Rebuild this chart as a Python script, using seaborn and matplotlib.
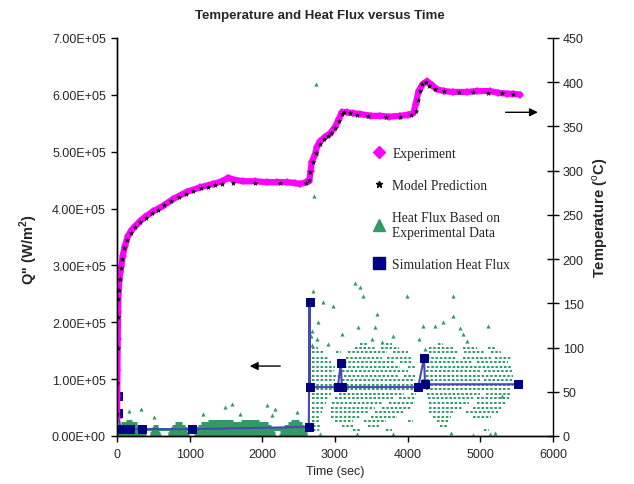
import numpy as np
import seaborn as sns
import matplotlib.pyplot as plt
from matplotlib.lines import Line2D
from matplotlib.ticker import FuncFormatter, MultipleLocator

sns.set_theme(style="white")
plt.rcParams['font.family'] = ['Liberation Sans', 'DejaVu Sans']
plt.rcParams['mathtext.fontset'] = 'custom'
plt.rcParams['mathtext.rm'] = 'Liberation Sans'
plt.rcParams['mathtext.bf'] = 'Liberation Sans:bold'

# temperature, experiment (sec, degC)
exp_t = [0, 3, 6, 10, 15, 20, 30, 45, 60, 80, 110, 150, 200, 250, 320, 390, 500, 630,
         775, 960, 1140, 1320, 1450, 1530, 1600, 1735, 1900, 2060, 2200, 2335, 2450,
         2520, 2600, 2645, 2665, 2680, 2725, 2750, 2795, 2860, 2930, 3000, 3050, 3095,
         3165, 3250, 3345, 3500, 3620, 3750, 3895, 4000, 4080, 4110, 4150, 4210, 4270,
         4330, 4400, 4500, 4625, 4815, 4950, 5130, 5250, 5370, 5450, 5545]
exp_T = [20, 45, 75, 110, 140, 160, 175, 185, 192, 204, 215, 226, 233, 237, 243, 248,
         254, 260, 268, 276, 281, 285, 288, 292, 290, 288, 288, 287, 287, 287, 286,
         285, 287, 288, 300, 310, 318, 327, 333, 338, 342, 349, 358, 366, 366, 365,
         364, 362, 362, 361, 362, 363, 365, 375, 390, 398, 401, 397, 392, 390, 389,
         389, 390, 390, 388, 387, 387, 386]

# temperature, model prediction
pred_t = [0, 5, 10, 15, 20, 25, 35, 50, 70, 100, 140, 190, 250, 320, 400, 480, 560,
          650, 750, 850, 950, 1050, 1150, 1250, 1350, 1450, 1600, 1900, 2250, 2600,
          2640, 2660, 2700, 2740, 2800, 2850, 2900, 2950, 3000, 3050, 3090, 3120, 3200,
          3300, 3450, 3700, 3900, 4050, 4120, 4140, 4170, 4200, 4250, 4300, 4380, 4500,
          4700, 4900, 5100, 5300, 5450]
pred_T = [25, 60, 100, 135, 155, 165, 178, 190, 200, 212, 222, 230, 236, 242, 247,
          252, 256, 261, 266, 270, 274, 277, 280, 282, 284, 285, 286, 286, 286, 286,
          290, 298, 310, 320, 330, 336, 339, 343, 348, 356, 364, 366, 365, 363, 362,
          361, 361, 363, 368, 380, 390, 398, 400, 396, 392, 390, 389, 389, 388, 388, 387]

# simulation heat flux (sec, 1e5 W/m2)
sim_t = [10, 15, 50, 180, 340, 1030, 2640, 2650, 2655, 3040, 3080, 3095, 4145, 4225,
         4240, 5520]
sim_q = [0.70, 0.40, 0.12, 0.12, 0.12, 0.12, 0.16, 2.36, 0.86, 0.86, 1.28, 0.86, 0.86,
         1.37, 0.91, 0.91]

# heat flux from experimental data: streaks of points (level, [(t_start, t_end)])
streak_q = [0.02, 0.06, 0.10, 0.13, 0.14, 0.18, 0.22, 0.26,
            1.62, 1.55, 1.47, 1.38, 1.30, 1.22, 1.14, 1.06, 0.98, 0.90, 0.82, 0.74,
            0.66, 0.58, 0.50, 0.42, 0.34, 0.26, 0.18, 0.10]
streak_spans = [
    [(0, 400), (450, 600), (700, 990), (1060, 2180), (2230, 2620)],
    [(0, 390), (460, 590), (700, 980), (1070, 2170), (2240, 2610)],
    [(0, 380), (470, 580), (720, 970), (1080, 2160), (2250, 2600)],
    [(0, 2640)],
    [(10, 360), (480, 570), (740, 960), (1090, 2150), (2270, 2600)],
    [(30, 330), (500, 560), (760, 940), (1110, 2120), (2300, 2580)],
    [(60, 280), (800, 900), (1150, 2080), (2350, 2550)],
    [(120, 200), (1250, 1600), (1700, 1950), (2400, 2500)],
    [(3350, 3450), (3700, 3780), (4420, 4480)],
    [(2690, 2760), (3280, 3560), (3640, 3880), (4300, 4620), (4760, 4960), (5100, 5200)],
    [(2690, 2830), (3020, 3080), (3180, 3720), (3800, 4000), (4300, 4700), (4780, 5050), (5150, 5280)],
    [(2680, 2900), (3150, 3650), (3720, 4050), (4260, 4680), (4760, 5150), (5200, 5420)],
    [(2680, 2950), (3120, 3820), (3900, 4080), (4250, 4900), (4950, 5380)],
    [(2680, 3000), (3120, 3900), (4000, 4100), (4260, 5420)],
    [(2680, 2980), (3100, 4000), (4250, 5000), (5050, 5430)],
    [(2680, 3050), (3120, 3880), (3950, 4100), (4250, 5450)],
    [(2680, 3000), (3100, 4100), (4200, 5000), (5050, 5450)],
    [(2680, 4120), (4250, 5450)],
    [(2680, 3020), (3100, 4100), (4250, 5420)],
    [(2680, 2950), (3050, 3950), (4050, 4120), (4260, 5000), (5080, 5420)],
    [(2680, 2900), (3000, 3800), (3880, 4100), (4280, 4900), (4950, 5400)],
    [(2680, 2880), (2960, 3650), (3750, 4100), (4300, 4850), (4950, 5350)],
    [(2680, 2850), (2950, 3550), (3650, 4050), (4300, 4750), (4900, 5300)],
    [(2680, 2820), (2950, 3450), (3550, 3950), (4300, 4650), (4800, 5250)],
    [(2680, 2800), (2950, 3350), (3500, 3850), (4350, 4600), (4900, 5150)],
    [(2690, 2780), (3000, 3250), (3400, 3700), (4000, 4080), (4400, 4550)],
    [(2700, 2800), (3100, 3250), (3450, 3600), (4450, 4550)],
    [(2700, 2780), (3250, 3350), (3700, 3780), (5050, 5120)],
]

# isolated heat flux points
flux_t = [40, 170, 330, 510, 1185, 1490, 1580, 1690, 2065, 2130, 2175, 2480,
          2700, 2710, 2740, 2750, 2770, 2835, 2975, 3100, 3275, 3320, 3345, 3385,
          3510, 3550, 3580, 3800, 3990, 4210, 4240, 4375, 4485, 4625, 4625, 4720,
          4765, 4815, 5105,
          2670, 2680, 2690, 2800, 3300, 3800, 4600, 4900, 5130, 5200, 5300, 4150,
          3650, 2900]
flux_q = [0.35, 0.44, 0.47, 0.33, 0.39, 0.51, 0.56, 0.39, 0.54, 0.37, 0.47, 0.42,
          2.55, 4.22, 6.19, 1.70, 2.00, 2.36, 2.29, 1.79, 2.69, 1.92, 2.62, 2.46,
          1.70, 1.92, 2.15, 1.76, 2.46, 1.93, 1.53, 1.93, 2.00, 2.46, 2.11, 1.90,
          1.79, 1.67, 1.93,
          1.75, 1.60, 1.85, 0.03, 0.04, 0.04, 0.05, 0.02, 0.03, 0.05, 0.70, 1.70,
          1.65, 1.62]

GREEN = '#339966'
MAGENTA = '#ff00ff'
NAVY = '#000080'
SIMLINE = '#4848b0'

fig = plt.figure(figsize=(6.34, 4.85), dpi=100)
ax = fig.add_axes([0.1845, 0.099, 0.6877, 0.8206])
ax2 = ax.twinx()

# heat flux (left axis)
for q, spans in zip(streak_q, streak_spans):
    for t0, t1 in spans:
        if t0 < 2640:
            ax.hlines(q * 1e5, t0, t1, color=GREEN, lw=2.2)
        else:
            ax.hlines(q * 1e5, t0, t1, color=GREEN, lw=1.4,
                      linestyles=(0, (1.3, 0.9)))
sns.scatterplot(x=flux_t, y=np.array(flux_q) * 1e5, marker='^', s=9, color=GREEN,
                linewidth=0, ax=ax, zorder=3)
sns.lineplot(x=sim_t, y=np.array(sim_q) * 1e5, sort=False, estimator=None,
             color=SIMLINE, lw=1.5, marker='s', markersize=5.5,
             markerfacecolor=NAVY, markeredgecolor=NAVY, ax=ax, zorder=4)

# temperature (right axis)
sns.lineplot(x=exp_t, y=exp_T, sort=False, estimator=None, color=MAGENTA, lw=4.5,
             marker='D', markersize=4, markeredgewidth=0, ax=ax2, zorder=2)
sns.scatterplot(x=pred_t, y=pred_T, marker='*', s=20, color='black', linewidth=0,
                ax=ax2, zorder=3)

ax.set_xlim(0, 6000)
ax.set_ylim(0, 7e5)
ax2.set_ylim(0, 450)
ax.xaxis.set_major_locator(MultipleLocator(1000))
ax.yaxis.set_major_locator(MultipleLocator(1e5))
ax2.yaxis.set_major_locator(MultipleLocator(50))
ax.yaxis.set_major_formatter(FuncFormatter(lambda v, p: f"{v:.2E}"))

for a in (ax, ax2):
    a.spines['top'].set_visible(False)
    for s in a.spines.values():
        s.set_color('black')
        s.set_linewidth(1)
ax.spines['right'].set_visible(False)
ax.tick_params(axis='y', direction='out', length=4, width=1, color='black',
               labelsize=9, pad=4, left=True)
ax.tick_params(axis='x', direction='out', length=4, width=1, color='black',
               labelsize=9, pad=5, bottom=True)
ax2.tick_params(axis='y', direction='inout', length=8, width=1, color='black',
                labelsize=9, pad=3, right=True)

ax.set_xlabel("Time (sec)", fontsize=9, labelpad=3)
ax.set_ylabel(r"Q'' (W/m$^\mathbf{2}$)", fontsize=10.5, fontweight='bold')
ax.yaxis.set_label_coords(-0.176, 0.47)
ax2.set_ylabel(r"Temperature ($^\mathrm{o}$C)", fontsize=10.5, fontweight='bold')
ax2.yaxis.set_label_coords(1.085, 0.55)

fig.text(0.505, 0.968, "Temperature and Heat Flux versus Time", ha='center',
         va='center', fontsize=9.5, fontweight='bold')

# arrows pointing at the axis for each data group
ax.annotate("", xy=(1790, 1.23e5), xytext=(2285, 1.23e5),
            arrowprops=dict(arrowstyle='-|>', color='black', lw=1, mutation_scale=12))
ax2.annotate("", xy=(5830, 366), xytext=(5310, 366),
             arrowprops=dict(arrowstyle='-|>', color='black', lw=1, mutation_scale=12))

handles = [
    Line2D([], [], ls='none', marker='D', color=MAGENTA, markersize=6),
    Line2D([], [], ls='none', marker='*', color='black', markersize=5),
    Line2D([], [], ls='none', marker='^', color=GREEN, markersize=8),
    Line2D([], [], ls='none', marker='s', color=NAVY, markersize=8),
]
labels = ["Experiment", "Model Prediction", "Heat Flux Based on\nExperimental Data",
          "Simulation Heat Flux"]
ax2.legend(handles, labels, loc='upper left', bbox_to_anchor=(0.56, 0.757),
           frameon=False, handlelength=0.8, handletextpad=0.6, labelspacing=1.4,
           prop={'family': ['Liberation Serif'], 'size': 9.8})

fig.savefig("out.png", dpi=100)
